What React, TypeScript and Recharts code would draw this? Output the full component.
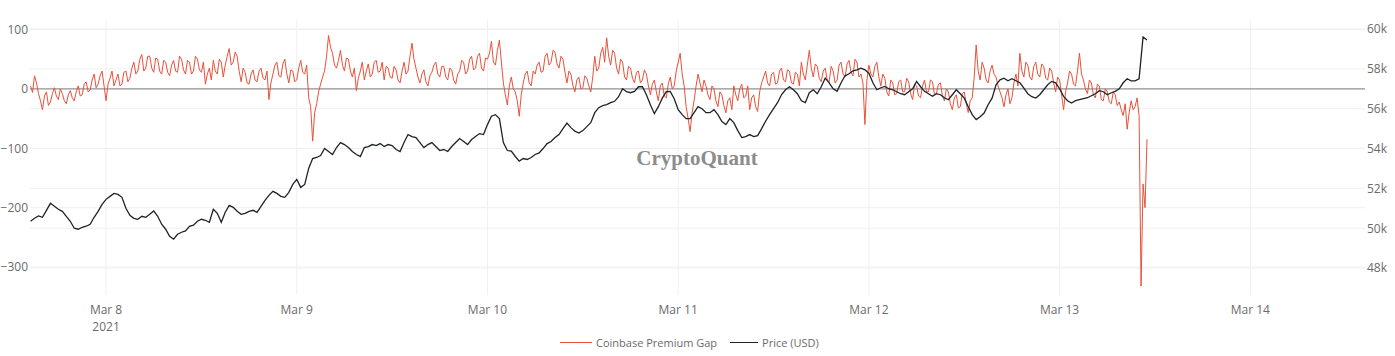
import React from "react";
import { LineChart, Line, XAxis, YAxis, ReferenceLine } from "recharts";

// Hours counted from Mar 7 2021 00:00
const START_HOUR = 14.5;
const GAP_STEP_HOURS = 0.25; // premium gap: 15-minute samples
const PRICE_STEP_HOURS = 0.5; // price: 30-minute samples

// Coinbase Premium Gap (USD)
const premiumGap = [
  5, -6, 22, 10, -8, -20, -35, -12, -5, -28, -22, -8, 2, -12, -18, 0, -8, -20, -25, -10,
  -3, -15, -20, -5, 5, -12, -10, 8, 12, -5, -2, 15, 25, 2, 8, 22, 30, 5, -20, 8,
  18, 30, 5, 15, 25, 5, 8, 28, 30, 12, 18, 35, 45, 25, 30, 50, 58, 30, 35, 55,
  55, 35, 28, 52, 50, 30, 25, 48, 45, 28, 22, 40, 48, 30, 28, 55, 50, 32, 25, 48,
  45, 25, 30, 55, 50, 32, 28, 45, 8, 25, 35, 15, 48, 30, 25, 50, 45, 20, 40, 55,
  68, 40, 45, 62, 55, 30, 12, 35, 28, 10, 8, 25, 32, 15, 12, 30, 35, 18, 15, 30,
  -18, 10, 25, 40, 45, 22, 20, 42, 50, 25, 10, 32, 30, 12, 15, 35, 48, 28, 25, 40,
  -15, -30, -88, -40, -25, -5, 8, 20, 30, 55, 90, 70, 60, 40, 35, 48, 65, 40, 30, 52,
  50, 30, 20, 35, -3, 18, 30, 45, 15, 30, 42, 20, 25, 45, 48, 28, 30, 45, 15, 38,
  35, 20, 18, 38, 32, 15, 10, 30, 45, 25, 30, 55, 77, 50, 35, 20, 10, 25, 32, 12,
  5, 22, 28, 40, 45, 25, 20, 38, 38, 20, 15, 35, 32, 15, 8, 25, 30, 48, 45, 25,
  30, 50, 55, 32, 35, 55, 60, 35, 30, 52, 50, 60, 80, 45, 40, 65, 82, 45, 10, -10,
  -27, 5, 20, 0, -5, -20, -46, -10, 10, 25, 30, 10, 5, 30, 25, 40, 45, 28, 30, 55,
  60, 40, 45, 65, 62, 42, 35, 55, 50, 28, 10, 30, 25, 5, -5, 15, 20, 0, 2, 22,
  18, 5, -5, 20, 55, 30, 35, 60, 70, 45, 86, 55, 40, 65, 60, 35, 25, 50, 45, 20,
  15, 38, 35, 18, 10, 28, 30, 10, 15, 32, 25, 5, -10, 8, 15, -5, -20, 5, 10, -12,
  -15, 8, 20, 0, 5, 30, 45, 60, 25, 5, -30, -50, -72, -40, -20, 5, 25, 10, -5, 15,
  5, -10, -18, 5, 0, -20, -30, -5, -10, -28, -40, -20, -15, -35, 5, -10, -20, 0, 8, -15,
  -12, 5, -35, -15, -10, -30, -38, -5, 10, 20, 30, 10, 5, 25, 28, 8, 10, 30, 35, 15,
  12, 32, 30, 10, 8, 28, 25, 5, 45, 25, 15, 40, 65, 35, 20, 42, 38, 18, 12, 30,
  35, 15, 12, 38, 30, 10, 15, 40, 45, 25, 20, 42, 48, 28, 22, 50, 45, 20, 25, 10,
  -60, 15, 40, 25, 20, 38, 45, 20, 5, 25, 18, -5, -12, 15, 10, -10, -8, 12, 15, -5,
  -5, 18, 12, -8, -18, 8, 5, -12, -15, 5, 15, -5, -5, 15, 12, -10, -8, 8, 10, -12,
  -20, 0, -5, -25, -35, -15, -10, -32, -30, -8, -5, -25, -40, -20, -15, 20, 74, 30, 15, 45,
  35, 15, 10, 30, 40, 25, 20, 5, -5, -15, -30, -10, 0, -25, -15, 10, 25, 5, 60, 30,
  20, 45, 40, 20, 15, 38, 45, 25, 20, 42, 38, 18, 15, 35, 30, 10, -5, 20, 15, -10,
  -35, -5, 10, 30, 25, 8, 5, 30, 60, 25, 15, 0, -8, 15, 10, -10, -15, 8, 5, -18,
  -20, 0, -5, -22, -25, -5, -10, -28, -22, -35, -45, -25, -68, -40, -20, -35, -30, -15, -45, -332,
  -160, -200, -85,
];

// BTC price, thousands of USD
const priceK = [
  50.35, 50.5, 50.62, 50.55, 50.9, 51.25, 51.1, 50.95, 50.85, 50.6,
  50.35, 50.0, 49.95, 50.05, 50.1, 50.2, 50.55, 50.85, 51.2, 51.45,
  51.6, 51.75, 51.7, 51.55, 51.0, 50.65, 50.5, 50.45, 50.6, 50.55,
  50.7, 50.87, 50.6, 50.2, 49.95, 49.6, 49.45, 49.7, 49.8, 49.87,
  50.1, 50.15, 50.35, 50.45, 50.4, 50.3, 50.95, 50.75, 50.3, 50.8,
  51.15, 51.05, 50.85, 50.7, 50.75, 50.85, 50.9, 50.8, 51.1, 51.4,
  51.65, 51.85, 51.75, 51.6, 51.55, 51.8, 52.2, 52.45, 52.05, 52.2,
  53.0, 53.5, 53.55, 53.65, 54.0, 53.85, 53.7, 54.05, 54.3, 54.2,
  54.05, 53.85, 53.7, 53.6, 54.05, 54.1, 54.2, 54.15, 54.25, 54.1,
  54.2, 54.15, 53.95, 53.85, 54.3, 54.7, 54.6, 54.55, 54.3, 54.05,
  54.2, 54.3, 54.1, 53.9, 53.95, 53.85, 54.1, 54.3, 54.5, 54.35,
  54.2, 54.45, 54.6, 54.75, 54.7, 55.2, 55.62, 55.7, 55.5, 54.3,
  53.9, 53.87, 53.6, 53.37, 53.5, 53.45, 53.55, 53.7, 53.78, 54.0,
  54.25, 54.35, 54.55, 54.7, 55.0, 55.28, 55.05, 54.87, 54.78, 54.9,
  55.1, 55.3, 55.8, 56.05, 56.15, 56.2, 56.3, 56.37, 56.6, 57.0,
  56.85, 56.8, 56.87, 57.1, 57.1, 56.7, 56.2, 55.75, 56.1, 56.53,
  56.85, 56.87, 56.5, 55.95, 55.7, 55.5, 55.5, 55.8, 56.1, 56.0,
  55.8, 55.8, 55.95, 55.7, 55.35, 55.2, 55.5, 55.3, 54.9, 54.55,
  54.6, 54.7, 54.6, 54.65, 55.0, 55.37, 55.7, 56.0, 56.3, 56.7,
  56.95, 57.1, 56.95, 56.75, 56.4, 56.3, 56.8, 56.95, 56.75, 57.1,
  57.53, 57.3, 57.0, 56.87, 57.3, 57.65, 57.75, 57.9, 57.95, 58.03,
  57.95, 57.78, 57.3, 56.95, 57.05, 57.12, 57.0, 56.95, 56.85, 56.75,
  56.7, 56.85, 57.0, 57.37, 57.1, 56.87, 56.75, 56.62, 56.75, 56.7,
  56.55, 56.45, 56.7, 56.95, 56.75, 56.53, 56.1, 55.7, 55.45, 55.6,
  55.78, 56.2, 56.53, 57.2, 57.45, 57.53, 57.4, 57.5, 57.4, 57.3,
  57.03, 56.75, 56.6, 56.53, 56.7, 56.95, 57.2, 57.37, 57.3, 57.0,
  56.62, 56.4, 56.28, 56.4, 56.45, 56.5, 56.55, 56.65, 56.75, 56.9,
  56.85, 56.7, 56.8, 56.87, 57.0, 57.3, 57.5, 57.4, 57.4, 57.5,
  59.6, 59.45,
];

// Axis ticks
const dayTicks = [24, 48, 72, 96, 120, 144, 168];
const dayLabels = ["Mar 8", "Mar 9", "Mar 10", "Mar 11", "Mar 12", "Mar 13", "Mar 14"];
const gapTicks = [-300, -200, -100, 0, 100];
const priceTicks = [48, 50, 52, 54, 56, 58, 60];

const RED = "#e9513a";
const DARK = "#1e2227";
const GRID = "#f0f0f0";
const TEXT = "#6b6b6b";
const FONT = "'Open Sans', sans-serif";

const gapData = premiumGap.map((gap, i) => ({ t: START_HOUR + i * GAP_STEP_HOURS, gap }));
const priceData = priceK.map((price, i) => ({ t: START_HOUR + i * PRICE_STEP_HOURS, price }));

const DateTick = (props: any) => {
  const { x, y, payload } = props;
  const idx = dayTicks.indexOf(payload.value);
  return (
    <g>
      <text x={x} y={y + 17} textAnchor="middle" fill={TEXT} fontSize={12} fontFamily={FONT}>
        {dayLabels[idx]}
      </text>
      {idx === 0 && (
        <text x={x} y={y + 34} textAnchor="middle" fill={TEXT} fontSize={12} fontFamily={FONT}>
          2021
        </text>
      )}
    </g>
  );
};

const fmtGap = (v: number) => (v < 0 ? `\u2212${Math.abs(v)}` : `${v}`);

export default function App() {
  return (
    <div
      style={{
        position: "absolute",
        left: 0,
        top: 0,
        width: 1395,
        height: 356,
        background: "#fff",
        fontFamily: FONT,
      }}
    >
      <LineChart width={1395} height={356} margin={{ top: 20, right: 0, left: 0, bottom: 21 }}>
        <XAxis
          dataKey="t"
          type="number"
          domain={[14.43, 182.43]}
          ticks={dayTicks}
          interval={0}
          allowDataOverflow
          tickLine={false}
          axisLine={false}
          tickSize={0}
          height={40}
          tick={<DateTick />}
        />
        <YAxis
          yAxisId="gap"
          orientation="left"
          domain={[-347, 116]}
          ticks={gapTicks}
          interval={0}
          allowDataOverflow
          width={30}
          tickSize={0}
          tickMargin={2}
          tickLine={false}
          axisLine={false}
          tickFormatter={fmtGap}
          tick={{ fill: TEXT, fontSize: 12, fontFamily: FONT }}
        />
        <YAxis
          yAxisId="price"
          orientation="right"
          domain={[46.65, 60.45]}
          ticks={priceTicks}
          interval={0}
          allowDataOverflow
          width={30}
          tickSize={0}
          tickMargin={2}
          tickLine={false}
          axisLine={false}
          tickFormatter={(v: number) => `${v}k`}
          tick={{ fill: TEXT, fontSize: 12, fontFamily: FONT }}
        />
        {dayTicks.map((d) => (
          <ReferenceLine key={`vx-${d}`} x={d} yAxisId="gap" stroke={GRID} strokeWidth={1} />
        ))}
        {gapTicks
          .filter((v) => v !== 0)
          .map((v) => (
            <ReferenceLine key={`hg-${v}`} y={v} yAxisId="gap" stroke={GRID} strokeWidth={1} />
          ))}
        {priceTicks.map((v) => (
          <ReferenceLine key={`hp-${v}`} y={v} yAxisId="price" stroke={GRID} strokeWidth={1} />
        ))}
        <ReferenceLine y={0} yAxisId="gap" stroke="#777" strokeWidth={1} />
        <Line
          data={gapData}
          yAxisId="gap"
          dataKey="gap"
          type="linear"
          stroke={RED}
          strokeWidth={1}
          dot={false}
          isAnimationActive={false}
        />
        <Line
          data={priceData}
          yAxisId="price"
          dataKey="price"
          type="linear"
          stroke={DARK}
          strokeWidth={1.3}
          dot={false}
          isAnimationActive={false}
        />
      </LineChart>
      <div
        style={{
          position: "absolute",
          left: 597,
          top: 145,
          width: 200,
          textAlign: "center",
          fontFamily: "'Liberation Serif', serif",
          fontWeight: "bold",
          fontSize: 21,
          lineHeight: "26px",
          color: "#8c8c8c",
          pointerEvents: "none",
        }}
      >
        CryptoQuant
      </div>
      <div
        style={{
          position: "absolute",
          left: 560,
          top: 335,
          display: "flex",
          alignItems: "center",
          fontSize: 11,
          color: TEXT,
          fontFamily: FONT,
          whiteSpace: "nowrap",
        }}
      >
        <span style={{ display: "inline-block", width: 32, borderTop: `1px solid ${RED}`, marginRight: 4 }} />
        <span style={{ marginRight: 13 }}>Coinbase Premium Gap</span>
        <span style={{ display: "inline-block", width: 28, borderTop: `1px solid ${DARK}`, marginRight: 4 }} />
        <span>Price (USD)</span>
      </div>
    </div>
  );
}
